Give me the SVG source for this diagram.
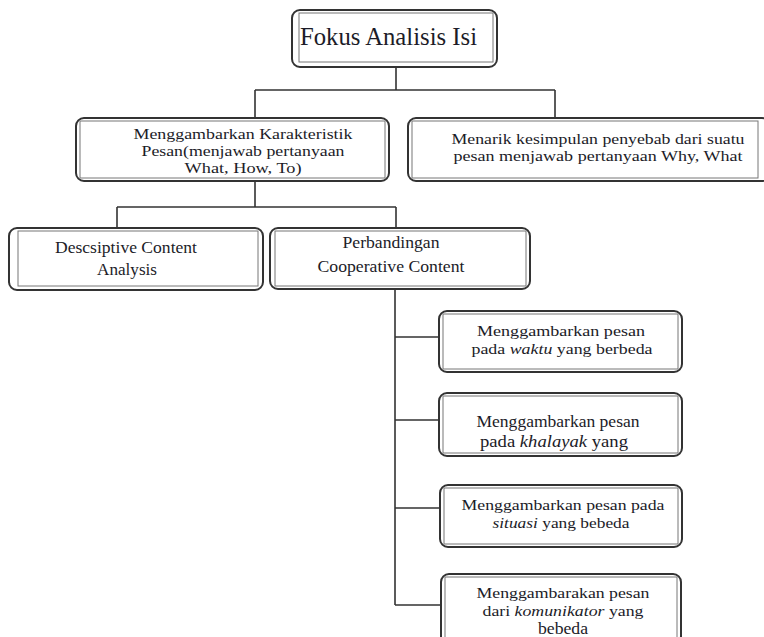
<svg xmlns="http://www.w3.org/2000/svg" width="764" height="637" viewBox="0 0 764 637">
<style>
.outer{fill:#fff;stroke:#333;stroke-width:2}
.inner{fill:none;stroke:#777;stroke-width:1}
.t{font-family:"Liberation Serif","Times New Roman","DejaVu Serif",serif;font-size:17px;fill:#1c1c28;text-anchor:middle}
.s{font-size:15px}
.big{font-size:25px;text-anchor:start}
.conn{fill:none;stroke:#333;stroke-width:1.6}
</style>
<rect width="764" height="637" fill="#fff"/>
<g id="connectors">
<path class="conn" d="M396 67V90M255 90H555M255 90V118M555 90V119"/>
<path class="conn" d="M255 181V207M117 207H396M117 207V228M396 207V228"/>
<path class="conn" d="M395 289V605M395 337H440M395 420H440M395 508H440M395 605H441"/>
</g>
<g id="fokus">
<rect class="outer" x="292" y="10" width="205" height="57" rx="8"/>
<rect class="inner" x="299" y="13" width="194" height="49"/>
<text class="t big" x="300" y="45" textLength="177" lengthAdjust="spacingAndGlyphs">Fokus Analisis Isi</text>
</g>
<g id="karakteristik">
<rect class="outer" x="76" y="118" width="313" height="63" rx="8"/>
<rect class="inner" x="80" y="121" width="305" height="57"/>
<text class="t s" x="243" y="139" textLength="219" lengthAdjust="spacingAndGlyphs">Menggambarkan Karakteristik</text>
<text class="t s" x="243" y="156" textLength="203" lengthAdjust="spacingAndGlyphs">Pesan(menjawab pertanyaan</text>
<text class="t s" x="243" y="173" textLength="117" lengthAdjust="spacingAndGlyphs">What, How, To)</text>
</g>
<g id="menarik">
<rect class="outer" x="408" y="118" width="362" height="63" rx="8"/>
<rect class="inner" x="412" y="121" width="346" height="57"/>
<text class="t s" x="598" y="144" textLength="293" lengthAdjust="spacingAndGlyphs">Menarik kesimpulan penyebab dari suatu</text>
<text class="t s" x="598" y="161" textLength="289" lengthAdjust="spacingAndGlyphs">pesan menjawab pertanyaan Why, What</text>
</g>
<g id="descriptive">
<rect class="outer" x="9" y="228" width="254" height="62" rx="8"/>
<rect class="inner" x="18" y="231" width="240" height="55"/>
<text class="t" x="126" y="253" textLength="142" lengthAdjust="spacingAndGlyphs">Descsiptive Content</text>
<text class="t" x="127" y="275" textLength="60" lengthAdjust="spacingAndGlyphs">Analysis</text>
</g>
<g id="perbandingan">
<rect class="outer" x="270" y="228" width="260" height="61" rx="8"/>
<rect class="inner" x="275" y="231" width="251" height="55"/>
<text class="t" x="391" y="248" textLength="97" lengthAdjust="spacingAndGlyphs">Perbandingan</text>
<text class="t" x="391" y="272" textLength="147" lengthAdjust="spacingAndGlyphs">Cooperative Content</text>
</g>
<g id="waktu">
<rect class="outer" x="439" y="311" width="243" height="61" rx="8"/>
<rect class="inner" x="443" y="314" width="235" height="55"/>
<text class="t s" x="561" y="336" textLength="168" lengthAdjust="spacingAndGlyphs">Menggambarkan pesan</text>
<text class="t s" x="562" y="354" textLength="181" lengthAdjust="spacingAndGlyphs">pada <tspan font-style="italic">waktu</tspan> yang berbeda</text>
</g>
<g id="khalayak">
<rect class="outer" x="439" y="393" width="243" height="63" rx="8"/>
<rect class="inner" x="443" y="396" width="235" height="57"/>
<text class="t" x="558" y="427" textLength="163" lengthAdjust="spacingAndGlyphs">Menggambarkan pesan</text>
<text class="t" x="554" y="447" textLength="148" lengthAdjust="spacingAndGlyphs">pada <tspan font-style="italic">khalayak</tspan> yang</text>
</g>
<g id="situasi">
<rect class="outer" x="440" y="485" width="242" height="62" rx="8"/>
<rect class="inner" x="444" y="488" width="234" height="56"/>
<text class="t s" x="563" y="510" textLength="203" lengthAdjust="spacingAndGlyphs">Menggambarkan pesan pada</text>
<text class="t s" x="561" y="528" textLength="137" lengthAdjust="spacingAndGlyphs"><tspan font-style="italic">situasi</tspan> yang bebeda</text>
</g>
<g id="komunikator">
<rect class="outer" x="441" y="574" width="240" height="70" rx="8"/>
<rect class="inner" x="445" y="577" width="232" height="64"/>
<text class="t s" x="563" y="598" textLength="173" lengthAdjust="spacingAndGlyphs">Menggambarakan pesan</text>
<text class="t s" x="563" y="616" textLength="161" lengthAdjust="spacingAndGlyphs">dari <tspan font-style="italic">komunikator</tspan> yang</text>
<text class="t" x="563" y="634" textLength="50" lengthAdjust="spacingAndGlyphs">bebeda</text>
</g>
</svg>
